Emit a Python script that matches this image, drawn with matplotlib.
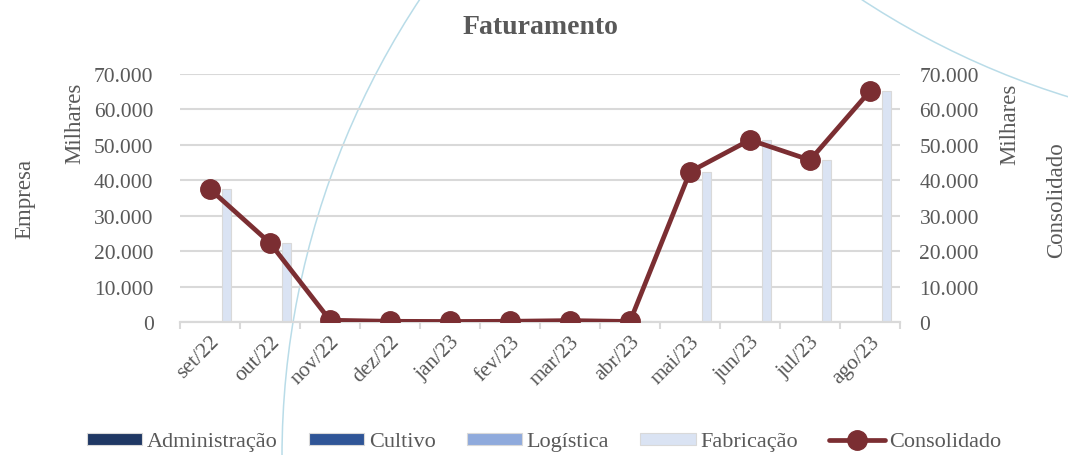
import matplotlib
matplotlib.use("Agg")
import matplotlib.pyplot as plt
from matplotlib.patches import Circle
from matplotlib.ticker import FuncFormatter, FixedLocator
import numpy as np

plt.rcParams['font.family'] = ['Liberation Serif', 'DejaVu Serif']

meses = ['set/22', 'out/22', 'nov/22', 'dez/22', 'jan/23', 'fev/23',
         'mar/23', 'abr/23', 'mai/23', 'jun/23', 'jul/23', 'ago/23']
administracao = [0, 0, 0, 0, 0, 0, 0, 0, 0, 0, 0, 0]
cultivo = [0, 0, 0, 0, 0, 0, 0, 0, 0, 0, 0, 0]
logistica = [0, 0, 0, 0, 0, 0, 0, 0, 0, 0, 0, 0]
fabricacao = [37400, 22200, 400, 200, 150, 200, 400, 150, 42300, 51400, 45700, 65200]
consolidado = [37500, 22300, 500, 200, 150, 200, 400, 150, 42400, 51400, 45700, 65200]

GRAY = "#595959"; GRID = "#d9d9d9"; LINE = "#7b2e32"
cores = ["#1f3864", "#2f5597", "#8faadc", "#dae3f3"]
nomes = ["Administração", "Cultivo", "Logística", "Fabricação"]
FS = 15.5

W, H = 1068, 456
fig = plt.figure(figsize=(W / 100, H / 100), dpi=100)
fig.patch.set_facecolor("white")

# decorative arcs in the background (pixel coords)
bg = fig.add_axes([0, 0, 1, 1], zorder=0)
bg.set_xlim(0, W); bg.set_ylim(H, 0); bg.axis("off")
for (cx, cy, r) in [(1111, 458, 829), (1308, -679, 813)]:
    bg.add_patch(Circle((cx, cy), r, fill=False, ec="#b9dce8", lw=1.1))

ax = fig.add_axes([180 / W, 1 - 323 / H, 720 / W, 248 / H], zorder=1)
ax.patch.set_alpha(0)
ax2 = ax.twinx()

x = np.arange(len(meses))
step, bw = 0.18, 0.155
series = [administracao, cultivo, logistica, fabricacao]
for i, (vals, c, n) in enumerate(zip(series, cores, nomes)):
    ax.bar(x + (i - 1.5) * step, vals, width=bw, color=c, edgecolor=GRID,
           lw=0.8, label=n, zorder=3)

ax2.plot(x, consolidado, color=LINE, lw=3.4, marker="o", ms=14,
         label="Consolidado", zorder=4, solid_capstyle="round")

fmt = FuncFormatter(lambda v, p: f"{v:,.0f}".replace(",", "."))
for a in (ax, ax2):
    a.set_ylim(0, 70000)
    a.set_yticks(range(0, 70001, 10000))
    a.yaxis.set_major_formatter(fmt)
    a.tick_params(axis="y", length=0, labelsize=FS, colors=GRAY)
    for s in ("top", "left", "right"):
        a.spines[s].set_visible(False)
    a.spines["bottom"].set_color(GRID)
    a.spines["bottom"].set_linewidth(1.5)
ax.tick_params(axis="y", pad=19)
ax2.tick_params(axis="y", pad=14)
ax.grid(axis="y", color=GRID, lw=1.5, zorder=0)
ax.set_axisbelow(True)

ax.set_xlim(-0.5, len(meses) - 0.5)
ax.set_xticks(x)
ax.set_xticklabels(meses, rotation=45, ha="right", va="top",
                   rotation_mode="anchor", fontsize=FS, color=GRAY)
ax.tick_params(axis="x", which="major", length=0, pad=7)
ax.xaxis.set_minor_locator(FixedLocator(np.arange(-0.5, len(meses), 1.0)))
ax.tick_params(axis="x", which="minor", length=5, color=GRID, width=1.5)

fig.text(540 / W, 1 - 27 / H, "Faturamento", ha="center", va="center",
         fontsize=20, fontweight="bold", color=GRAY)
fig.text(75 / W, 1 - 123 / H, "Milhares", rotation=90, ha="center", va="center",
         fontsize=16.5, color=GRAY)
fig.text(25 / W, 1 - 199 / H, "Empresa", rotation=90, ha="center", va="center",
         fontsize=16.5, color=GRAY)
fig.text(1010 / W, 1 - 124 / H, "Milhares", rotation=90, ha="center", va="center",
         fontsize=16.5, color=GRAY)
fig.text(1057 / W, 1 - 200 / H, "Consolidado", rotation=90, ha="center", va="center",
         fontsize=16.5, color=GRAY)

h1, l1 = ax.get_legend_handles_labels()
h2, l2 = ax2.get_legend_handles_labels()
leg = fig.legend(h1 + h2, l1 + l2, loc="center", bbox_to_anchor=(544 / W, 1 - 443 / H),
                 ncol=5, frameon=False, fontsize=16, handlelength=2.5,
                 handleheight=0.45, handletextpad=0.2, columnspacing=1.4,
                 labelcolor=GRAY)

fig.savefig("out.png", dpi=100, facecolor="white")
